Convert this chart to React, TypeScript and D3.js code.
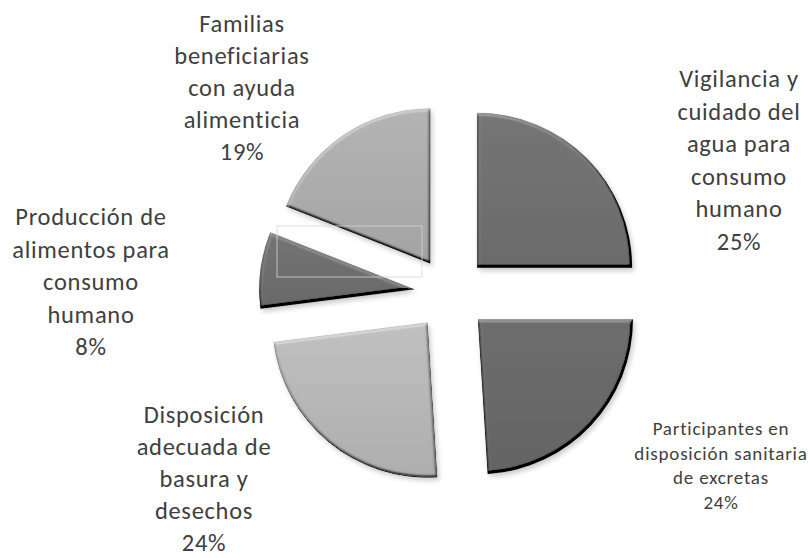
import React from "react";
import * as d3 from "d3";

const categories = [
  "Vigilancia y cuidado del agua para consumo humano",
  "Participantes en disposición sanitaria de excretas",
  "Disposición adecuada de basura y desechos",
  "Producción de alimentos para consumo humano",
  "Familias beneficiarias con ayuda alimenticia",
];
const values = [25, 24, 24, 8, 19];
const labelLines = [
  ["Vigilancia y", "cuidado del", "agua para", "consumo", "humano"],
  ["Participantes en", "disposición sanitaria", "de excretas"],
  ["Disposición", "adecuada de", "basura y", "desechos"],
  ["Producción de", "alimentos para", "consumo", "humano"],
  ["Familias", "beneficiarias", "con ayuda", "alimenticia"],
];

// style / layout
const W = 812;
const H = 558;
const CX = 451;
const CY = 294;
const R = 155;
const EXPLODE = 37;
const fills = ["#707070", "#686868", "#b6b6b6", "#6e6e6e", "#ababab"];
const labelLayout = [
  { x: 739, y: 87, size: 24.5, ls: 0.7, lh: 32.6 },
  { x: 721, y: 435, size: 19, ls: 0.8, lh: 24.7 },
  { x: 204, y: 423, size: 24.5, ls: 0.7, lh: 32 },
  { x: 91, y: 225, size: 24.5, ls: 0.7, lh: 32.6 },
  { x: 242, y: 32, size: 24.5, ls: 0.7, lh: 32 },
];
const FONT = "Carlito, Calibri, Lato, 'Open Sans', sans-serif";

export default function App() {
  const pie = d3
    .pie<number>()
    .sort(null)
    .value((d) => d)
    .startAngle(0)
    .endAngle(2 * Math.PI);
  const arcs = pie(values);
  const arc = d3.arc<d3.PieArcDatum<number>>().innerRadius(0).outerRadius(R);
  const total = d3.sum(values);

  return (
    <svg
      width={W}
      height={H}
      style={{ position: "absolute", left: 0, top: 0, background: "#fff" }}
    >
      <defs>
        <filter id="bevel" x="-20%" y="-20%" width="140%" height="140%">
          <feGaussianBlur in="SourceAlpha" stdDeviation="1.8" result="blur" />
          <feDiffuseLighting
            in="blur"
            surfaceScale="4"
            diffuseConstant="1"
            lightingColor="#ffffff"
            result="light"
          >
            <feDistantLight azimuth="250" elevation="45" />
          </feDiffuseLighting>
          <feComposite
            in="SourceGraphic"
            in2="light"
            operator="arithmetic"
            k1="0"
            k2="1"
            k3="0.5"
            k4="-0.354"
            result="lit"
          />
          <feComposite in="lit" in2="SourceAlpha" operator="in" result="litIn" />
          <feGaussianBlur in="SourceAlpha" stdDeviation="2.5" result="sblur" />
          <feOffset in="sblur" dx="2" dy="3" result="soff" />
          <feComponentTransfer in="soff" result="shadow">
            <feFuncA type="linear" slope="0.2" />
          </feComponentTransfer>
          <feMerge>
            <feMergeNode in="shadow" />
            <feMergeNode in="litIn" />
          </feMerge>
        </filter>
        {arcs.map((a, i) => (
          <linearGradient key={i} id={`g${i}`} x1="0" y1="0" x2="0" y2="1">
            <stop offset="0" stopColor={d3.color(fills[i])!.brighter(0.15).formatHex()} />
            <stop offset="1" stopColor={d3.color(fills[i])!.darker(0.12).formatHex()} />
          </linearGradient>
        ))}
      </defs>
      {arcs.map((a, i) => {
        const mid = (a.startAngle + a.endAngle) / 2;
        const dx = Math.sin(mid) * EXPLODE;
        const dy = -Math.cos(mid) * EXPLODE;
        return (
          <g key={categories[i]} transform={`translate(${CX + dx},${CY + dy})`}>
            <path
              d={arc(a) || ""}
              fill={`url(#g${i})`}
              filter="url(#bevel)"
              stroke={d3.color(fills[i])!.darker(0.7).formatHex()}
              strokeWidth={0.7}
              strokeOpacity={0.5}
            />
          </g>
        );
      })}
      <rect
        x={CX - 174}
        y={CY - 68}
        width={145}
        height={51}
        fill="none"
        stroke="#d4d4d4"
        strokeWidth={0.8}
      />
      {arcs.map((a, i) => {
        const L = labelLayout[i];
        const lines = [...labelLines[i], `${Math.round((values[i] / total) * 100)}%`];
        return (
          <text
            key={"l" + i}
            x={L.x}
            y={L.y}
            textAnchor="middle"
            fontFamily={FONT}
            fontSize={L.size}
            letterSpacing={L.ls}
            fill="#404040"
          >
            {lines.map((ln, j) => (
              <tspan key={j} x={L.x} y={L.y + j * L.lh}>
                {ln}
              </tspan>
            ))}
          </text>
        );
      })}
    </svg>
  );
}
